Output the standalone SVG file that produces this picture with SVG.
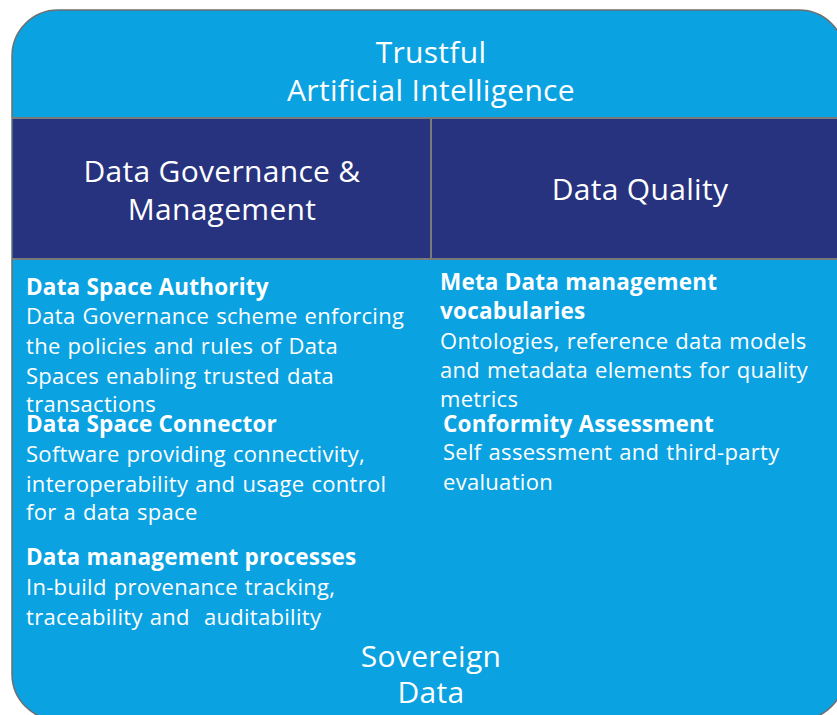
<svg xmlns="http://www.w3.org/2000/svg" width="837" height="715" viewBox="0 0 837 715">
<style>
.bg{fill:#0ba2e2;stroke:#6e6e6e;stroke-width:1.5}
.band{fill:#27337e}
.div{stroke:#7a7a7a;stroke-width:2;fill:none}
text{font-family:"Open Sans","Noto Sans","DejaVu Sans",sans-serif;fill:#ffffff}
.h{font-size:30px;text-anchor:middle;letter-spacing:0.3px}
.b{font-size:22.5px;font-weight:700;letter-spacing:0.2px}
.t{font-size:22px;letter-spacing:0.3px;word-spacing:1px}
.pre{white-space:pre}
</style>
<rect class="bg" x="12" y="10" width="833" height="710" rx="46" ry="46"/>
<rect class="band" x="12.75" y="118" width="832" height="140"/>
<g id="connectors">
<line class="div" x1="12" y1="118" x2="837" y2="118"/>
<line class="div" x1="12" y1="259" x2="837" y2="259"/>
<line class="div" x1="431" y1="118" x2="431" y2="259"/>
</g>
<g id="top">
<text class="h" x="431" y="63">Trustful</text>
<text class="h" x="431" y="101">Artificial Intelligence</text>
</g>
<g id="governance">
<text class="h" x="222" y="182">Data Governance &amp;</text>
<text class="h" x="222" y="220">Management</text>
</g>
<g id="quality">
<text class="h" x="640" y="200">Data Quality</text>
</g>
<g id="authority">
<text class="b" x="26" y="295">Data Space Authority</text>
<text class="t" x="26" y="324">Data Governance scheme enforcing</text>
<text class="t" x="26" y="354">the policies and rules of Data</text>
<text class="t" x="26" y="384">Spaces enabling trusted data</text>
<text class="t" x="26" y="412">transactions</text>
</g>
<g id="connector">
<text class="b" x="26" y="432">Data Space Connector</text>
<text class="t" x="26" y="462">Software providing connectivity,</text>
<text class="t" x="26" y="492">interoperability and usage control</text>
<text class="t" x="26" y="520">for a data space</text>
</g>
<g id="processes">
<text class="b" x="26" y="565">Data management processes</text>
<text class="t" x="26" y="595">In-build provenance tracking,</text>
<text class="t pre" x="26" y="625">traceability and  auditability</text>
</g>
<g id="metadata">
<text class="b" x="440" y="290">Meta Data management</text>
<text class="b" x="440" y="319">vocabularies</text>
<text class="t" x="440" y="349">Ontologies, reference data models</text>
<text class="t" x="440" y="378">and metadata elements for quality</text>
<text class="t" x="440" y="407">metrics</text>
</g>
<g id="conformity">
<text class="b" x="443" y="432">Conformity Assessment</text>
<text class="t" x="443" y="460">Self assessment and third-party</text>
<text class="t" x="443" y="490">evaluation</text>
</g>
<g id="bottom">
<text class="h" x="431" y="667">Sovereign</text>
<text class="h" x="431" y="703">Data</text>
</g>
</svg>
